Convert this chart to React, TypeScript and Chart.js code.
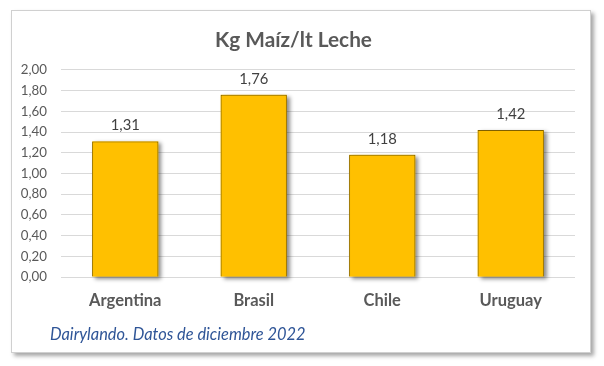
import React, { useEffect, useRef } from "react";
import { Chart, registerables } from "chart.js";

Chart.register(...registerables);

const categories = ["Argentina", "Brasil", "Chile", "Uruguay"];
const values = [1.31, 1.76, 1.18, 1.42];
const titleText = "Kg Maíz/lt Leche";
const footerText = "Dairylando. Datos de diciembre 2022";
const yMin = 0;
const yMax = 2;
const yStep = 0.2;

const FONT = "Lato, 'Carlito', 'Open Sans', sans-serif";
const fmt = (v: number) => v.toFixed(2).replace(".", ",");

const shadowPlugin = {
  id: "barShadow",
  beforeDatasetsDraw(chart: any) {
    const ctx = chart.ctx;
    const meta = chart.getDatasetMeta(0);
    ctx.save();
    ctx.shadowColor = "rgba(0,0,0,0.45)";
    ctx.shadowBlur = 4;
    ctx.shadowOffsetX = 3;
    ctx.shadowOffsetY = 2;
    ctx.fillStyle = "#FFC000";
    meta.data.forEach((bar: any) => {
      const { x, y, base, width } = bar.getProps(["x", "y", "base", "width"], true);
      ctx.fillRect(x - width / 2, y, width, base - y);
    });
    ctx.restore();
  },
};

const labelPlugin = {
  id: "labelsAndFooter",
  afterDraw(chart: any) {
    const ctx = chart.ctx;
    const meta = chart.getDatasetMeta(0);
    ctx.save();
    ctx.font = `14.8px ${FONT}`;
    ctx.fillStyle = "#404040";
    ctx.textAlign = "center";
    ctx.textBaseline = "middle";
    meta.data.forEach((bar: any, i: number) => {
      const { x, y } = bar.getProps(["x", "y"], true);
      ctx.fillText(fmt(values[i]), x, y - 16);
    });
    ctx.font = `italic 16.4px ${FONT}`;
    ctx.fillStyle = "#2F5597";
    ctx.textAlign = "left";
    ctx.fillText(footerText, 38, 324);
    ctx.restore();
  },
};

export default function App() {
  const ref = useRef<HTMLCanvasElement | null>(null);

  useEffect(() => {
    document.body.style.margin = "0";
    document.body.style.background = "#ffffff";
    const chart = new Chart(ref.current as HTMLCanvasElement, {
      type: "bar",
      data: {
        labels: categories,
        datasets: [
          {
            data: values,
            backgroundColor: "#FFC000",
            borderColor: "#7F6000",
            borderWidth: 1,
            categoryPercentage: 1,
            barPercentage: 0.515,
          },
        ],
      },
      options: {
        animation: false,
        responsive: false,
        maintainAspectRatio: false,
        layout: { padding: { left: 0, right: 15, top: 0, bottom: 0 } },
        plugins: {
          legend: { display: false },
          tooltip: { enabled: false },
          title: {
            display: true,
            text: titleText,
            color: "#595959",
            font: { family: FONT, size: 20.8, weight: "bold", lineHeight: 1.2 },
            padding: { top: 17, bottom: 17 },
          },
        },
        scales: {
          x: {
            grid: { display: false, drawTicks: false },
            border: { display: false },
            ticks: {
              color: "#595959",
              padding: 14,
              font: { family: FONT, size: 16.5, weight: "bold" },
            },
            afterFit: (s: any) => {
              s.height = 75;
            },
          },
          y: {
            min: yMin,
            max: yMax,
            grid: { color: "#D9D9D9", drawTicks: false, lineWidth: 1 },
            border: { display: false },
            ticks: {
              stepSize: yStep,
              color: "#595959",
              padding: 14,
              font: { family: FONT, size: 13.3 },
              callback: (v: any) => fmt(Number(v)),
            },
            afterFit: (s: any) => {
              s.width = 49;
            },
          },
        },
      },
      plugins: [shadowPlugin, labelPlugin],
    });
    return () => chart.destroy();
  }, []);

  return (
    <div style={{ position: "relative", width: 604, height: 366, background: "#fff" }}>
      <div
        style={{
          position: "absolute",
          left: 11,
          top: 10,
          width: 578,
          height: 341,
          border: "1px solid #D0D0D0",
          background: "#fff",
          boxShadow: "3px 3px 4px rgba(0,0,0,0.35)",
        }}
      >
        <canvas ref={ref} width={578} height={341} style={{ display: "block" }} />
      </div>
    </div>
  );
}
